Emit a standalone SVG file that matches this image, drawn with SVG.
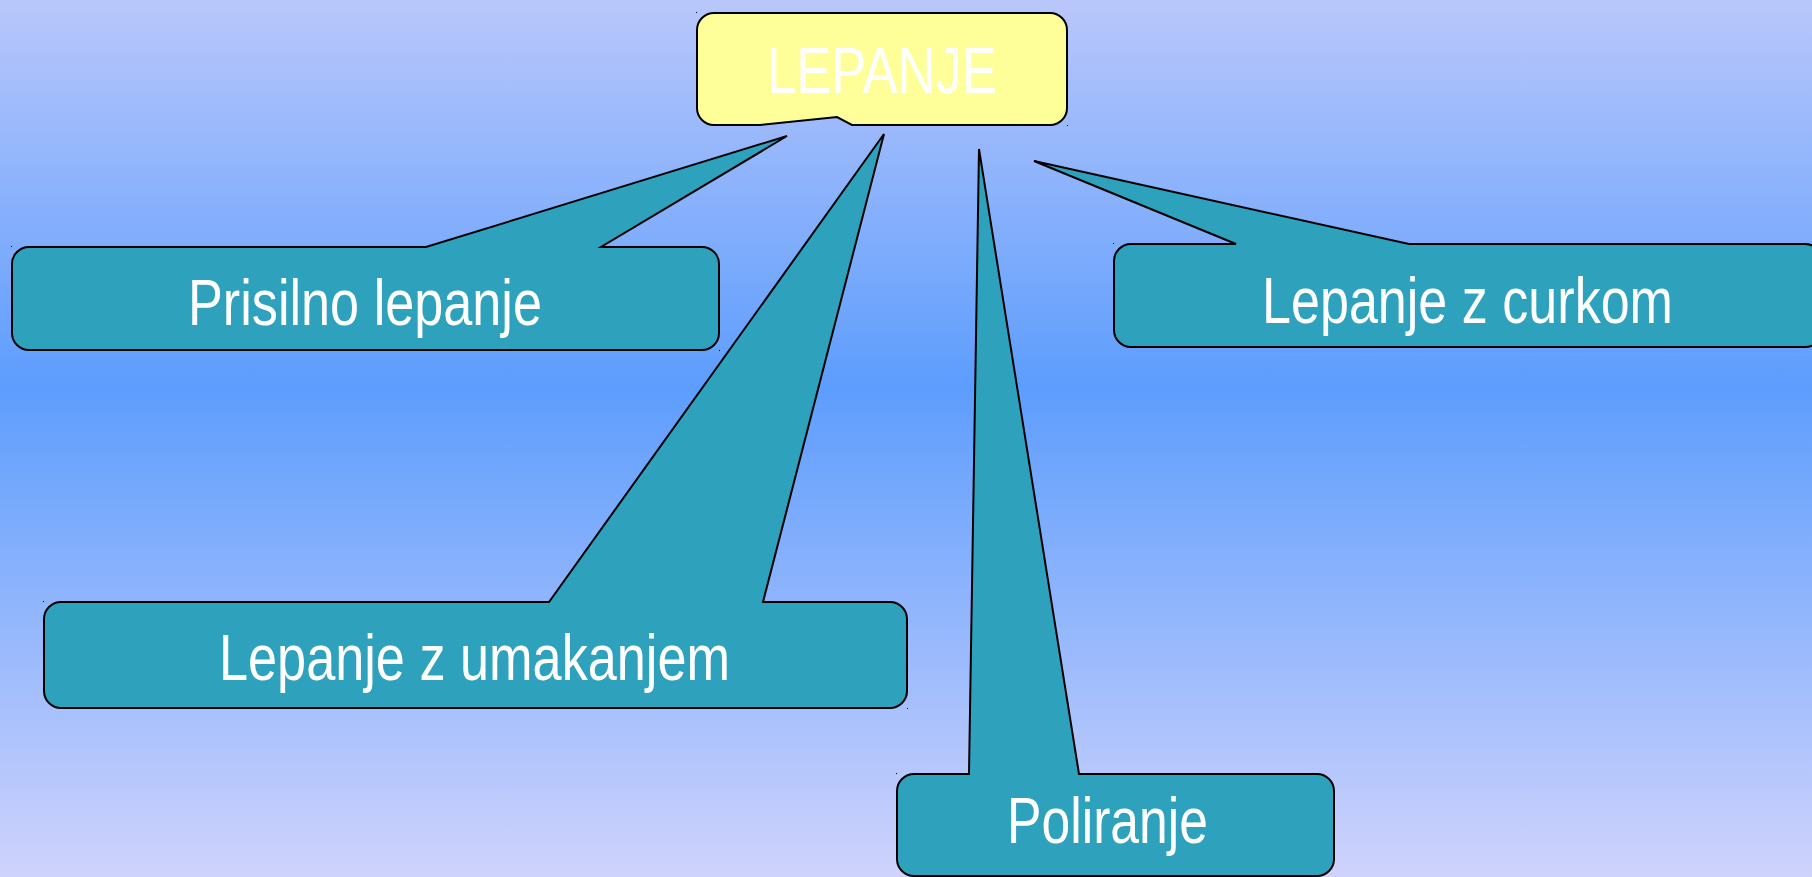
<svg xmlns="http://www.w3.org/2000/svg" width="1812" height="877" viewBox="0 0 1812 877">
<defs>
<linearGradient id="bg" x1="0" y1="0" x2="0" y2="1">
<stop offset="0" stop-color="#b9c7fb"/>
<stop offset="0.44" stop-color="#5d9dfd"/>
<stop offset="1" stop-color="#cfd3fc"/>
</linearGradient>
<style>
.callout{fill:#2ea2bd;stroke:#000;stroke-width:2;stroke-linejoin:miter}
.root{fill:#ffff99;stroke:#000;stroke-width:2}
.lbl{font-family:"Liberation Sans",Arial,sans-serif;font-size:64px;fill:#fff}
.dot{fill:#000}
</style>
</defs>
<rect x="0" y="0" width="1812" height="877" fill="url(#bg)"/>
<g id="connectors"/>
<g id="node-lepanje">
<path class="root" d="M714,13 H1050 A17,17 0 0 1 1067,30 V108 A17,17 0 0 1 1050,125 H852 L837,117 L760,125 H714 A17,17 0 0 1 697,108 V30 A17,17 0 0 1 714,13 Z"/>
<text class="lbl" x="767" y="93" font-size="66" textLength="230" lengthAdjust="spacingAndGlyphs">LEPANJE</text>
<rect class="dot" x="696" y="12" width="1" height="1"/><rect class="dot" x="1067" y="125" width="1" height="1"/>
</g>
<g id="node-prisilno">
<path class="callout" d="M29,247 H426 L787,136 L601,247 H702 A17,17 0 0 1 719,264 V333 A17,17 0 0 1 702,350 H29 A17,17 0 0 1 12,333 V264 A17,17 0 0 1 29,247 Z"/>
<text class="lbl" x="188" y="325" textLength="354" lengthAdjust="spacingAndGlyphs">Prisilno lepanje</text>
<rect class="dot" x="11" y="246" width="1" height="1"/><rect class="dot" x="719" y="350" width="1" height="1"/>
</g>
<g id="node-curkom">
<path class="callout" d="M1131,244 H1236 L1034,161 L1409,244 H1805 A17,17 0 0 1 1822,261 V330 A17,17 0 0 1 1805,347 H1131 A17,17 0 0 1 1114,330 V261 A17,17 0 0 1 1131,244 Z"/>
<text class="lbl" x="1262" y="323" textLength="411" lengthAdjust="spacingAndGlyphs">Lepanje z curkom</text>
<rect class="dot" x="1113" y="243" width="1" height="1"/>
</g>
<g id="node-umakanjem">
<path class="callout" d="M61,602 H549 L884,134 L763,602 H890 A17,17 0 0 1 907,619 V691 A17,17 0 0 1 890,708 H61 A17,17 0 0 1 44,691 V619 A17,17 0 0 1 61,602 Z"/>
<text class="lbl" x="219" y="680" textLength="511" lengthAdjust="spacingAndGlyphs">Lepanje z umakanjem</text>
<rect class="dot" x="43" y="601" width="1" height="1"/><rect class="dot" x="907" y="708" width="1" height="1"/>
</g>
<g id="node-poliranje">
<path class="callout" d="M914,774 H969 L979,149 L1079,774 H1317 A17,17 0 0 1 1334,791 V859 A17,17 0 0 1 1317,876 H914 A17,17 0 0 1 897,859 V791 A17,17 0 0 1 914,774 Z"/>
<text class="lbl" x="1007" y="843" textLength="201" lengthAdjust="spacingAndGlyphs">Poliranje</text>
<rect class="dot" x="896" y="773" width="1" height="1"/>
</g>
</svg>
